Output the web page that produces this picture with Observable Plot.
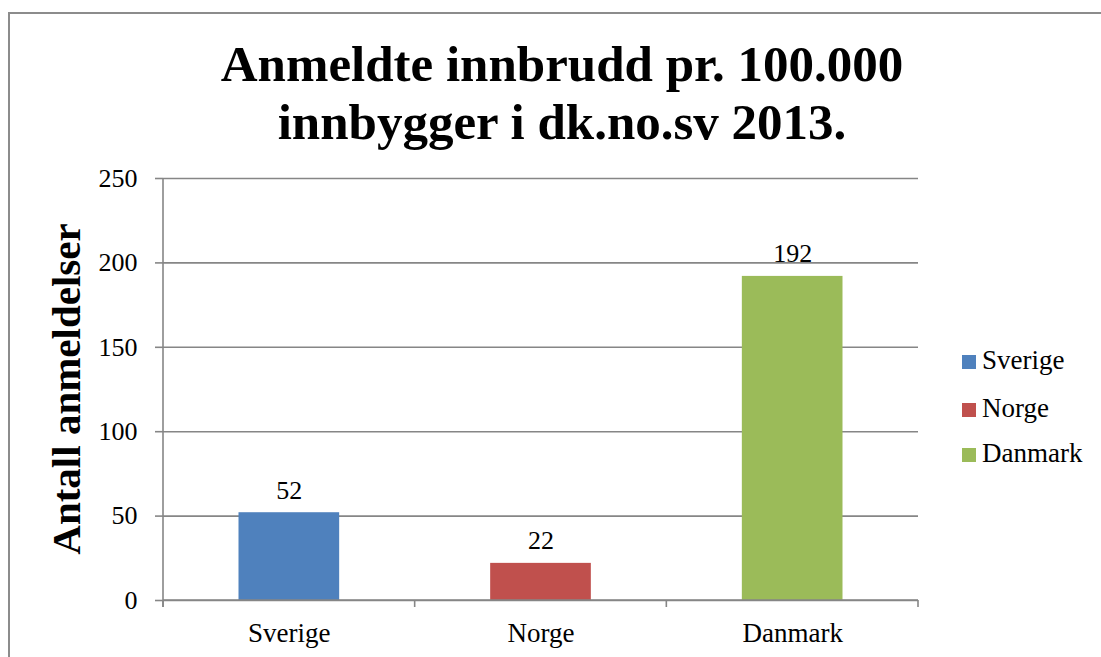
<!DOCTYPE html>
<html>
<head>
<meta charset="utf-8">
<script src="https://cdn.jsdelivr.net/npm/d3@7"></script>
<script src="https://cdn.jsdelivr.net/npm/@observablehq/plot@0.6"></script>
<style>
  html, body { margin: 0; padding: 0; background: #fff; }
  #wrap { position: relative; width: 1101px; height: 657px; overflow: hidden; font-family: "Liberation Serif", serif; color: #000; }
  #border { position: absolute; left: 8px; top: 12px; width: 1200px; height: 800px; border-left: 2px solid #8c8c8c; border-top: 2px solid #8c8c8c; }
  #chart { position: absolute; left: 0; top: 0; }
  #title { position: absolute; left: 562px; top: 35px; transform: translateX(-50%); text-align: center; font-weight: bold; font-size: 51px; line-height: 58px; white-space: nowrap; }
  #ylabel { position: absolute; left: 66px; top: 389px; transform: translate(-50%, -50%) rotate(-90deg); font-weight: bold; font-size: 41px; white-space: nowrap; line-height: 44px; }
  .leg { position: absolute; left: 962px; font-size: 27px; line-height: 30px; white-space: nowrap; }
  .sw { display: inline-block; width: 14px; height: 14px; margin-right: 6px; vertical-align: 0px; }
</style>
</head>
<body>
<div id="wrap">
  <div id="border"></div>
  <div id="chart"></div>
  <div id="title">Anmeldte innbrudd pr. 100.000<br>innbygger i dk.no.sv 2013.</div>
  <div id="ylabel">Antall anmeldelser</div>
  <div id="legend"></div>
</div>
<script>
// Data
const categories = ["Sverige", "Norge", "Danmark"];
const values = [52, 22, 192];
const colors = ["#4F81BD", "#C0504D", "#9BBB59"];
const yTicks = [0, 50, 100, 150, 200, 250];
const yTitle = "Antall anmeldelser";

const data = categories.map((c, i) => ({land: c, verdi: values[i]}));
const gridColor = "#868686";

const plot = Plot.plot({
  width: 1101,
  height: 657,
  marginTop: 178,
  marginBottom: 57,
  marginLeft: 163,
  marginRight: 183,
  style: {fontFamily: "Liberation Serif", fontSize: "26px", color: "#000", background: "transparent", overflow: "visible"},
  x: {type: "band", domain: categories, paddingInner: 0.6, paddingOuter: 0.3, round: false, label: null},
  y: {domain: [0, 250], label: null},
  color: {domain: categories, range: colors},
  marks: [
    Plot.gridY(yTicks, {stroke: gridColor, strokeOpacity: 1, strokeWidth: 1.6}),
    Plot.axisY({ticks: yTicks, tickSize: 8, tickPadding: 18, stroke: gridColor, strokeWidth: 1.6, fill: "#000", fontSize: 26, label: null}),
    Plot.axisX({tickSize: 0, tickPadding: 22, fill: "#000", fontSize: 27, label: null}),
    Plot.barY(data, {x: "land", y: "verdi", fill: "land"}),
    Plot.text(data, {x: "land", y: "verdi", text: d => String(d.verdi), dy: -14, lineAnchor: "bottom", fontSize: 26, fill: "#000"})
  ]
});
document.getElementById("chart").appendChild(plot);

// Category boundary ticks, left axis line and baseline drawn from Plot's scales
const sx = plot.scale("x");
const sy = plot.scale("y");
const xb = d3.scaleBand().domain(sx.domain).range(sx.range)
  .paddingInner(sx.paddingInner).paddingOuter(sx.paddingOuter).align(sx.align ?? 0.5);
const yl = d3.scaleLinear().domain(sy.domain).range(sy.range);
const half = xb.step() * xb.paddingInner() / 2;
const bounds = categories.map(c => xb(c) - half).concat([xb(categories[categories.length - 1]) + xb.bandwidth() + half]);
const svg = d3.select(plot);
const g = svg.append("g").attr("stroke", gridColor).attr("stroke-width", 1.6);
const y0 = yl(0), yTop = yl(250);
g.append("line").attr("x1", bounds[0]).attr("x2", bounds[0]).attr("y1", yTop).attr("y2", y0 + 7);
g.append("line").attr("x1", bounds[0]).attr("x2", bounds[bounds.length - 1]).attr("y1", y0).attr("y2", y0);
bounds.forEach(b => g.append("line").attr("x1", b).attr("x2", b).attr("y1", y0).attr("y2", y0 + 7));

// Legend
const legend = document.getElementById("legend");
const legTops = [345, 393, 438];
categories.forEach((c, i) => {
  const d = document.createElement("div");
  d.className = "leg";
  d.style.top = legTops[i] + "px";
  d.innerHTML = `<span class="sw" style="background:${colors[i]}"></span>${c}`;
  legend.appendChild(d);
});
</script>
</body>
</html>
